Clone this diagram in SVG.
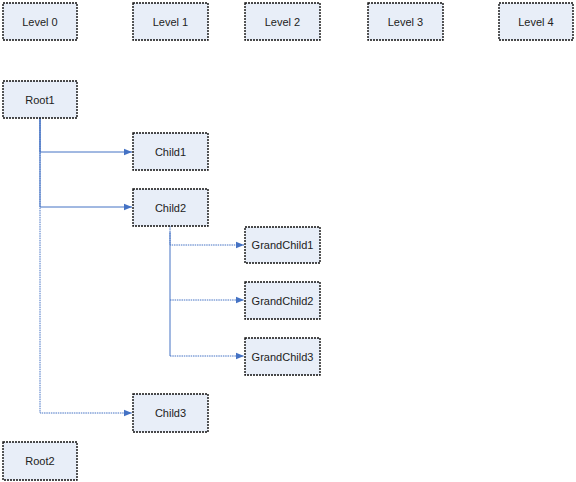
<svg xmlns="http://www.w3.org/2000/svg" width="576" height="482" viewBox="0 0 576 482">
<style>
.box{fill:#E8EEF8;stroke:#111;stroke-width:1.4;stroke-dasharray:2 1}
.lbl{font-family:"Liberation Sans",Arial,sans-serif;font-size:11px;fill:#222;text-anchor:middle;dominant-baseline:central}
.c{fill:none;stroke:#4472C4;stroke-width:1}
.d{stroke-dasharray:1.5 0.8}
</style>
<defs>
<marker id="arr" viewBox="0 0 8 8" refX="8" refY="4" markerWidth="8" markerHeight="8" markerUnits="userSpaceOnUse" orient="auto">
<path d="M0,0.8 L8,4 L0,7.2 Z" fill="#4472C4"/>
</marker>
</defs>
<rect width="576" height="482" fill="#fff"/>
<g id="connectors">
<path class="c d" d="M40,118 V413 H132" marker-end="url(#arr)"/>
<path class="c" d="M40,118 V152 H132" marker-end="url(#arr)"/>
<path class="c" d="M40,118 V207 H132" marker-end="url(#arr)"/>
<path class="c d" d="M170,226 V245 H244" marker-end="url(#arr)"/>
<path class="c d" d="M170,300 H244" marker-end="url(#arr)"/>
<path class="c" d="M170,232 V356"/>
<path class="c d" d="M170,356 H244" marker-end="url(#arr)"/>
</g>
<g id="level0"><rect class="box" x="3" y="3" width="74" height="37"/><text class="lbl" x="40" y="21.5">Level 0</text></g>
<g id="level1"><rect class="box" x="133" y="3" width="75" height="37"/><text class="lbl" x="170.5" y="21.5">Level 1</text></g>
<g id="level2"><rect class="box" x="245" y="3" width="75" height="37"/><text class="lbl" x="282.5" y="21.5">Level 2</text></g>
<g id="level3"><rect class="box" x="368" y="3" width="75" height="37"/><text class="lbl" x="405.5" y="21.5">Level 3</text></g>
<g id="level4"><rect class="box" x="499" y="3" width="74" height="37"/><text class="lbl" x="536" y="21.5">Level 4</text></g>
<g id="root1"><rect class="box" x="3" y="81" width="74" height="37"/><text class="lbl" x="40" y="99.5">Root1</text></g>
<g id="child1"><rect class="box" x="133" y="133" width="75" height="37"/><text class="lbl" x="170.5" y="151.5">Child1</text></g>
<g id="child2"><rect class="box" x="133" y="189" width="75" height="37"/><text class="lbl" x="170.5" y="207.5">Child2</text></g>
<g id="grandchild1"><rect class="box" x="245" y="227" width="75" height="36"/><text class="lbl" x="282.5" y="245">GrandChild1</text></g>
<g id="grandchild2"><rect class="box" x="245" y="282" width="75" height="37"/><text class="lbl" x="282.5" y="300.5">GrandChild2</text></g>
<g id="grandchild3"><rect class="box" x="245" y="338" width="75" height="37"/><text class="lbl" x="282.5" y="356.5">GrandChild3</text></g>
<g id="child3"><rect class="box" x="133" y="394" width="75" height="38"/><text class="lbl" x="170.5" y="413">Child3</text></g>
<g id="root2"><rect class="box" x="3" y="442" width="74" height="38"/><text class="lbl" x="40" y="461">Root2</text></g>
</svg>
